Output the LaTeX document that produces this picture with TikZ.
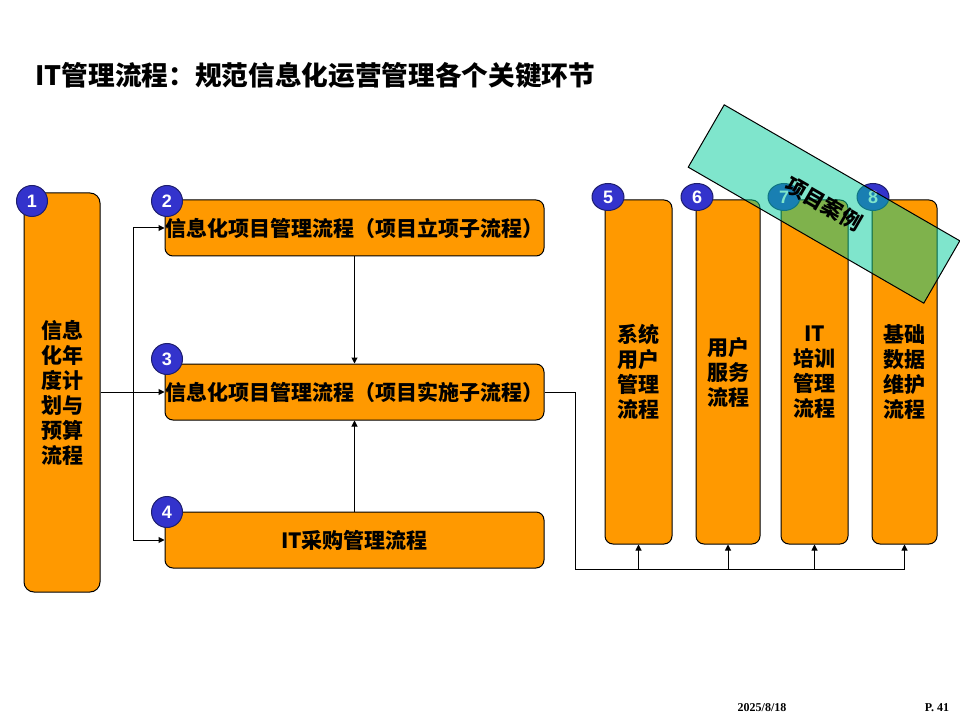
\documentclass[tikz,border=0pt]{standalone}
\usepackage{fontspec}
\setmainfont{Liberation Sans}
\newfontfamily\cjk{Noto Sans CJK SC}
\newfontfamily\footfont{Liberation Serif}
\usetikzlibrary{arrows.meta,shapes.geometric}

\tikzset{every picture/.style={line width=0.75pt}}
\tikzset{
	box/.style={draw, fill={rgb,255:red,255;green,153;blue,0}, rounded corners=6pt, inner sep=0pt, align=center, font=\cjk\bfseries\fontsize{15.75}{18.75}\selectfont},
	num/.style={circle, draw={rgb,255:red,30;green,30;blue,110}, fill={rgb,255:red,51;green,51;blue,204}, minimum size=23.25pt, inner sep=0pt, text=white, font=\bfseries\fontsize{13.5}{13.5}\selectfont},
	numr/.style={num, ellipse, minimum width=24pt, minimum height=20.25pt},
	arr/.style={-{Triangle[length=4.5pt,width=4.5pt]}},
}

\begin{document}
\begin{tikzpicture}[x=0.75pt,y=0.75pt,yscale=-1,xscale=1]
	\useasboundingbox (0,0) rectangle (960,720);
	%Title
	\node[anchor=west, inner sep=0pt, font=\cjk\bfseries\fontsize{20}{24}\selectfont] (title) at (35,75) {IT管理流程：规范信息化运营管理各个关键环节};
	%Left boxes
	\node[box, rounded corners=7.5pt, minimum width=57pt, minimum height=299.25pt] (b1) at (62,392.5) {信息\\化年\\度计\\划与\\预算\\流程};
	\node[box, minimum width=284.25pt, minimum height=42pt] (b2) at (354.5,228) {信息化项目管理流程（项目立项子流程）};
	\node[box, minimum width=284.25pt, minimum height=42pt] (b3) at (354.5,392) {信息化项目管理流程（项目实施子流程）};
	\node[box, minimum width=284.25pt, minimum height=42pt] (b4) at (354.5,540) {IT采购管理流程};
	%Right boxes
	\node[box, minimum width=50.25pt, minimum height=258pt] (b5) at (638.5,372) {系统\\用户\\管理\\流程};
	\node[box, minimum width=48pt, minimum height=258pt] (b6) at (728,372) {用户\\服务\\流程};
	\node[box, minimum width=50.25pt, minimum height=258pt] (b7) at (814.5,372) {IT\\培训\\管理\\流程};
	\node[box, minimum width=48.75pt, minimum height=258pt] (b8) at (904.5,372) {基础\\数据\\维护\\流程};
	%Numbers
	\node[num] (n1) at (32,201) {1};
	\node[num] (n2) at (167,201) {2};
	\node[num] (n3) at (167,359) {3};
	\node[num] (n4) at (167,512) {4};
	\node[numr] (n5) at (608,197) {5};
	\node[numr] (n6) at (697,197) {6};
	\node[numr] (n7) at (784,197) {7};
	\node[numr] (n8) at (873,197) {8};
	%Connectors
	\coordinate (split) at (133,392);
	\coordinate (bus) at (575,569);
	\draw[arr] (b1.east |- b3.west) -- (b3.west);
	\draw (split |- b2.west) -- (split |- b4.west);
	\draw[arr] (split |- b2.west) -- (b2.west);
	\draw[arr] (split |- b4.west) -- (b4.west);
	\draw[arr] (b2.south) -- (b3.north);
	\draw[arr] (b4.north) -- (b3.south);
	\draw (b3.east) -| (bus) -- (b8.south |- bus);
	\foreach \n in {5,...,8} \draw[arr] (b\n.south |- bus) -- (b\n.south);
	%Case band
	\node[draw, fill={rgb,255:red,0;green,204;blue,153}, fill opacity=0.5, text opacity=1, rotate=-30, minimum width=204pt, minimum height=54pt, font=\cjk\bfseries\fontsize{15.75}{18}\selectfont] (case) at (824,204) {项目案例};
	%Footer
	\node[inner sep=0pt, font=\footfont\bfseries\fontsize{9}{9}\selectfont] (date) at (762,708) {2025/8/18};
	\node[inner sep=0pt, font=\footfont\bfseries\fontsize{9}{9}\selectfont] (page) at (937,708) {P. 41};
\end{tikzpicture}
\end{document}
